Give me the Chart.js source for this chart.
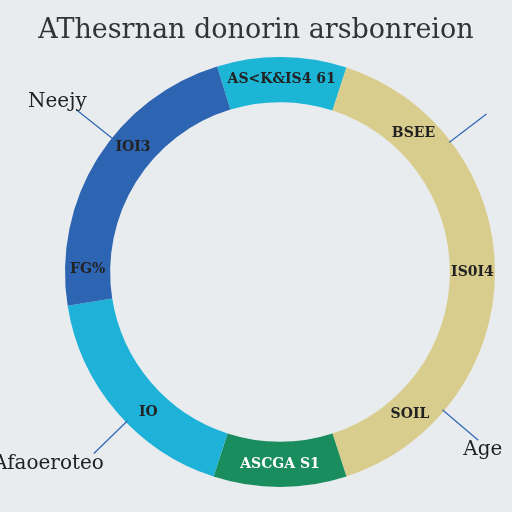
<!DOCTYPE html>
<html><head><meta charset="utf-8">
<script src="https://cdn.jsdelivr.net/npm/chart.js@4"></script>
<style>html,body{margin:0;padding:0;background:#e9ecef}canvas{display:block}</style>
</head><body>
<canvas id="c" width="512" height="512"></canvas>
<script>
const titleText = "AThesrnan donorin arsbonreion";
const categories = ["AS<K&IS4 61", "Age", "ASCGA S1", "Afaoeroteo", "Neejy"];
const values = [35, 144, 36, 63, 82];
const colors = ["#1db5d6", "#d9cd8e", "#1a8d5e", "#1fb2d9", "#2e65b2"];
const innerLabels = [
  [["AS<K&IS4 61", 0.5]],
  [["BSEE", 0.18], ["IS0I4", 0.5], ["SOIL", 0.83]],
  [["ASCGA S1", 0.5]],
  [["IO", 0.4]],
  [["FG%", 0.12], ["IOI3", 0.6]]
];
const outerLabels = [
  {seg: 4, frac: 0.58, text: "Neejy"},
  {seg: 1, frac: 0.24, text: ""},
  {seg: 1, frac: 0.78, text: "Age"},
  {seg: 3, frac: 0.44, text: "Afaoeroteo"}
];

const labelPlugin = {
  id: 'lbl',
  beforeDraw(chart){
    const ctx = chart.ctx;
    ctx.save();
    ctx.fillStyle = "#333";
    ctx.font = "27px 'DejaVu Serif', serif";
    ctx.textAlign = "center"; ctx.textBaseline = "alphabetic";
    ctx.fillText(titleText, 256, 38);
    ctx.restore();
  },
  afterDraw(chart){
    const ctx = chart.ctx;
    const arcs = chart.getDatasetMeta(0).data;
    ctx.save();
    ctx.textAlign = "center"; ctx.textBaseline = "middle";
    arcs.forEach((a, i) => {
      const r = (a.innerRadius + a.outerRadius) / 2;
      innerLabels[i].forEach(([t, f]) => {
        const ang = a.startAngle + (a.endAngle - a.startAngle) * f;
        ctx.fillStyle = (i === 2) ? "#fff" : "#222";
        ctx.font = "bold 14px 'DejaVu Serif', serif";
        ctx.fillText(t, a.x + Math.cos(ang) * r, a.y + Math.sin(ang) * r);
      });
    });
    outerLabels.forEach(o => {
      const a = arcs[o.seg];
      const ang = a.startAngle + (a.endAngle - a.startAngle) * o.frac;
      const c = Math.cos(ang), s = Math.sin(ang);
      const x1 = a.x + c * (a.outerRadius - 2), y1 = a.y + s * (a.outerRadius - 2);
      const x2 = a.x + c * (a.outerRadius + 45), y2 = a.y + s * (a.outerRadius + 45);
      ctx.strokeStyle = "#2e65b2"; ctx.lineWidth = 1.2;
      ctx.beginPath(); ctx.moveTo(x1, y1); ctx.lineTo(x2, y2); ctx.stroke();
      ctx.fillStyle = "#222"; ctx.font = "20px 'DejaVu Serif', serif";
      ctx.textAlign = c < 0 ? "right" : "left";
      ctx.fillText(o.text, x2 + (c < 0 ? 10 : -15), y2 + (s < 0 ? -8 : 10));
    });
    ctx.restore();
  }
};

new Chart(document.getElementById('c'), {
  type: 'doughnut',
  data: { labels: categories, datasets: [{ data: values, backgroundColor: colors, borderWidth: 0 }] },
  options: {
    responsive: false, animation: false, cutout: '79%', rotation: -17,
    layout: { padding: { top: 57, bottom: 25, left: 65, right: 17 } },
    plugins: { legend: { display: false }, tooltip: { enabled: false } }
  },
  plugins: [labelPlugin]
});
</script>
</body></html>
